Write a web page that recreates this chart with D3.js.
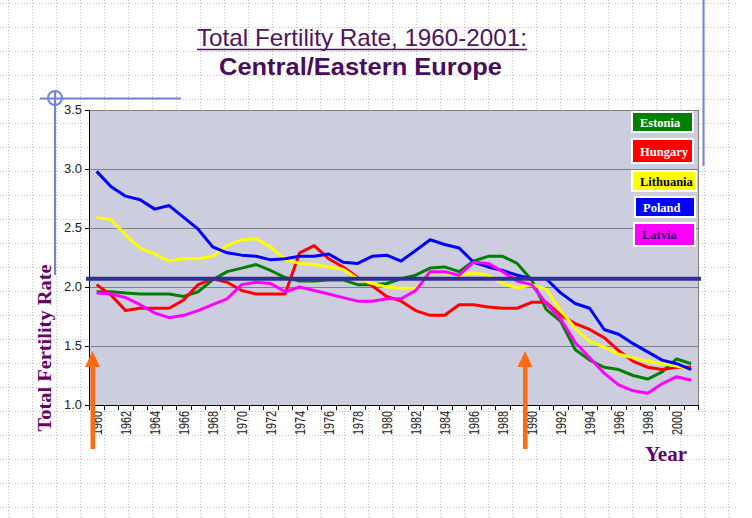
<!DOCTYPE html>
<html><head><meta charset="utf-8">
<script src="https://cdn.jsdelivr.net/npm/d3@7"></script>
<style>body{margin:0;background:#fff}svg{display:block}</style>
</head><body><svg id="c" width="752" height="518"></svg>
<script>
// ---------- data ----------
const years = [1960,1961,1962,1963,1964,1965,1966,1967,1968,1969,1970,1971,1972,1973,1974,1975,1976,1977,1978,1979,1980,1981,1982,1983,1984,1985,1986,1987,1988,1989,1990,1991,1992,1993,1994,1995,1996,1997,1998,1999,2000,2001];
const yearTickLabels = [1960,1962,1964,1966,1968,1970,1972,1974,1976,1978,1980,1982,1984,1986,1988,1990,1992,1994,1996,1998,2000];
const yTickValues = [1.0,1.5,2.0,2.5,3.0,3.5];
const seriesNames = ["Estonia","Hungary","Lithuania","Poland","Latvia"];
const estonia   = [1.96,1.96,1.95,1.94,1.94,1.94,1.92,1.96,2.06,2.13,2.16,2.19,2.14,2.08,2.05,2.05,2.06,2.06,2.02,2.02,2.03,2.07,2.10,2.16,2.17,2.13,2.22,2.26,2.26,2.20,2.06,1.81,1.71,1.47,1.38,1.32,1.30,1.25,1.22,1.28,1.39,1.35];
const hungary   = [2.02,1.93,1.80,1.82,1.82,1.82,1.89,2.02,2.07,2.04,1.97,1.94,1.94,1.94,2.29,2.35,2.24,2.17,2.08,2.01,1.92,1.88,1.80,1.76,1.76,1.85,1.85,1.83,1.82,1.82,1.87,1.87,1.76,1.69,1.64,1.57,1.46,1.37,1.32,1.30,1.32,1.32];
const lithuania = [2.59,2.57,2.44,2.33,2.28,2.22,2.24,2.24,2.26,2.35,2.40,2.41,2.34,2.23,2.20,2.19,2.17,2.15,2.07,2.03,2.00,1.99,1.99,2.12,2.12,2.10,2.12,2.10,2.03,1.99,2.02,1.98,1.80,1.65,1.54,1.49,1.43,1.40,1.37,1.35,1.33,1.30];
const poland    = [2.98,2.85,2.77,2.74,2.66,2.69,2.59,2.49,2.34,2.29,2.27,2.26,2.23,2.24,2.26,2.26,2.28,2.21,2.20,2.26,2.27,2.22,2.31,2.40,2.36,2.33,2.21,2.17,2.14,2.10,2.07,2.07,1.95,1.86,1.82,1.64,1.60,1.52,1.45,1.38,1.35,1.30];
const latvia    = [1.95,1.94,1.91,1.85,1.78,1.74,1.76,1.80,1.85,1.90,2.02,2.04,2.03,1.96,2.00,1.97,1.94,1.91,1.88,1.88,1.90,1.90,1.97,2.13,2.13,2.10,2.21,2.20,2.13,2.05,2.02,1.86,1.73,1.53,1.40,1.27,1.17,1.12,1.10,1.18,1.24,1.21];
const replacementLevel = 2.07;

// ---------- styles ----------
const seriesColors = ["#008000","#FF0000","#FFFF00","#0000FF","#FF00FF"];
const legendTextColors = ["#FFFFFF","#FFFFFF","#000000","#FFFFFF","#330066"];
const legendBoxes = [[632,112,61,20],[632,139,61,24],[632,171,64,20],[635,197,60,20],[634,223,61,23]];

const allSeries = [estonia,hungary,lithuania,poland,latvia];
const svg = d3.select("#c");

// background dotted grid
const bg = svg.append("g").attr("stroke","#c4c4c4").attr("stroke-width",1).attr("stroke-dasharray","1,2");
d3.range(3,518,24).forEach(yy=>bg.append("line").attr("x1",0).attr("x2",736).attr("y1",yy+0.5).attr("y2",yy+0.5));
d3.range(8,736,24).forEach(xx=>bg.append("line").attr("y1",0).attr("y2",518).attr("x1",xx+0.5).attr("x2",xx+0.5));

// slide decorations
const deco = "#6F85E0";
svg.append("line").attr("x1",703.5).attr("x2",703.5).attr("y1",0).attr("y2",166).attr("stroke",deco).attr("stroke-width",2);
svg.append("line").attr("x1",40).attr("x2",181).attr("y1",98.5).attr("y2",98.5).attr("stroke",deco).attr("stroke-width",2);
svg.append("line").attr("x1",55).attr("x2",55).attr("y1",92).attr("y2",275).attr("stroke",deco).attr("stroke-width",2);
svg.append("circle").attr("cx",55).attr("cy",98).attr("r",7).attr("fill","none").attr("stroke",deco).attr("stroke-width",2);

// titles
svg.append("text").attr("x",362).attr("y",46).attr("text-anchor","middle")
  .attr("font-family","Liberation Sans, Arial, sans-serif").attr("font-size",24).attr("fill","#4E1563")
  .attr("textLength",330).attr("lengthAdjust","spacingAndGlyphs").text("Total Fertility Rate, 1960-2001:");
svg.append("line").attr("x1",197).attr("x2",527).attr("y1",49.5).attr("y2",49.5).attr("stroke","#4E1563").attr("stroke-width",1.3);
svg.append("text").attr("x",360.5).attr("y",75).attr("text-anchor","middle")
  .attr("font-family","Liberation Sans, Arial, sans-serif").attr("font-weight","bold").attr("font-size",23).attr("fill","#4A0D5C")
  .attr("textLength",283).attr("lengthAdjust","spacingAndGlyphs").text("Central/Eastern Europe");

// scales
const x = d3.scaleBand().domain(years).range([89.4,698.4]).padding(0);
const y = d3.scaleLinear().domain([1,3.5]).range([405,110]);
const cx = d => x(d)+x.bandwidth()/2;

// plot area
svg.append("rect").attr("x",89).attr("y",y(3.5)).attr("width",698.4-89).attr("height",y(1)-y(3.5)).attr("fill","#CDCDE0");
const grid = svg.append("g");
yTickValues.filter(v=>v>1).forEach(v=>{
  grid.append("line").attr("x1",89).attr("x2",698.4).attr("y1",Math.round(y(v))+0.5).attr("y2",Math.round(y(v))+0.5).attr("stroke","#808080").attr("stroke-width",1);
});
grid.append("line").attr("x1",698.5).attr("x2",698.5).attr("y1",y(3.5)).attr("y2",y(1)).attr("stroke","#808080");

// axes
const yAxis = svg.append("g").attr("transform","translate(89,0)")
  .call(d3.axisLeft(y).tickValues(yTickValues).tickFormat(d3.format(".1f")).tickSize(4).tickPadding(3));
yAxis.select(".domain").attr("stroke","#000");
yAxis.selectAll("text").attr("font-family","Liberation Sans, Arial, sans-serif").attr("font-size",12).attr("fill","#222")
  .attr("textLength",18).attr("lengthAdjust","spacingAndGlyphs");

const xAxis = svg.append("g").attr("transform","translate(0,405)")
  .call(d3.axisBottom(x).tickValues(yearTickLabels).tickSize(0).tickPadding(0));
xAxis.select(".domain").remove();
xAxis.selectAll("text").attr("transform","rotate(-90)").attr("x",-6).attr("y",0).attr("dy","0.35em")
  .attr("text-anchor","end").attr("font-family","Liberation Sans, Arial, sans-serif").attr("font-size",14).attr("fill","#222")
  .attr("textLength",24).attr("lengthAdjust","spacingAndGlyphs");
svg.append("line").attr("x1",89).attr("x2",698.4).attr("y1",405.5).attr("y2",405.5).attr("stroke","#000");
const bounds = years.map(d=>x(d)).concat([x.range()[1]]);
svg.append("g").selectAll("line").data(bounds).join("line")
  .attr("x1",d=>Math.round(d)+0.5).attr("x2",d=>Math.round(d)+0.5).attr("y1",405).attr("y2",410).attr("stroke","#000");

// series lines
const line = d3.line().x((d,i)=>cx(years[i])).y(d=>y(d));
allSeries.forEach((s,i)=>{
  svg.append("path").datum(s).attr("d",line).attr("fill","none").attr("stroke",seriesColors[i])
    .attr("stroke-width",3).attr("stroke-linejoin","round");
});

// replacement level line
svg.append("line").attr("x1",86).attr("x2",701).attr("y1",y(replacementLevel)).attr("y2",y(replacementLevel))
  .attr("stroke","#2E3192").attr("stroke-width",4);

// legend
seriesNames.forEach((n,i)=>{
  const b = legendBoxes[i];
  svg.append("rect").attr("x",b[0]).attr("y",b[1]).attr("width",b[2]).attr("height",b[3])
    .attr("fill",seriesColors[i]).attr("stroke","#fff").attr("stroke-width",2);
  svg.append("text").attr("x",b[0]+8).attr("y",b[1]+b[3]/2+4.5)
    .attr("font-family","Liberation Serif, Times New Roman, serif").attr("font-weight","bold").attr("font-size",12.5)
    .attr("fill",legendTextColors[i]).text(n);
});

// axis titles
svg.append("text").attr("transform","translate(51,348) rotate(-90)").attr("text-anchor","middle")
  .attr("font-family","Liberation Serif, Times New Roman, serif").attr("font-weight","bold").attr("font-size",18)
  .attr("fill","#660066").attr("textLength",167).attr("lengthAdjust","spacingAndGlyphs").text("Total Fertility Rate");
svg.append("text").attr("x",645).attr("y",461)
  .attr("font-family","Liberation Serif, Times New Roman, serif").attr("font-weight","bold").attr("font-size",21)
  .attr("fill","#660066").text("Year");

// orange arrows
const arrow = (ax)=>{
  svg.append("rect").attr("x",ax-2).attr("y",364).attr("width",4.5).attr("height",85).attr("fill","#FF6A13");
  svg.append("path").attr("d",`M${ax-7.5},367L${ax},351L${ax+7.5},367Z`).attr("fill","#FF6A13");
};
arrow(92.5);
arrow(525);
</script>
</body></html>
